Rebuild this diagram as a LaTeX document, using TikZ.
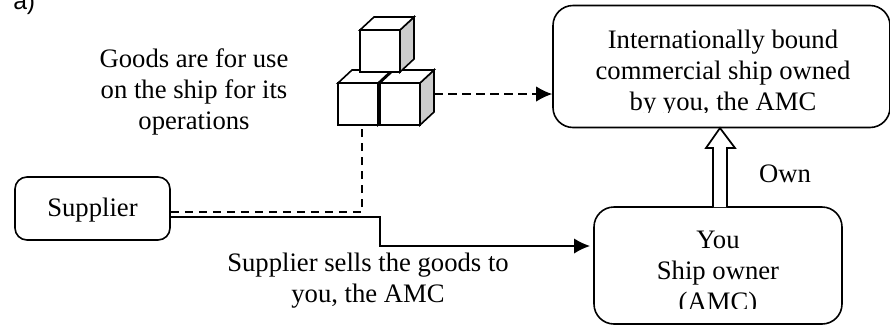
\documentclass[tikz,border=0pt]{standalone}
\usepackage{fontspec}
\setmainfont{Liberation Serif}
\newfontfamily\labelfont{Liberation Sans}
\usetikzlibrary{arrows.meta,positioning}
\tikzset{
    roundbox/.style={draw, line width=1.2pt, rounded corners=15pt, inner sep=0pt},
    caption/.style={align=center, font=\fontsize{20}{23.2}\selectfont, inner sep=0pt},
    crate/.style={draw, line width=1.2pt, fill=white, line join=miter},
    crateside/.style={crate, fill=black!20},
    wire/.style={line width=1.1pt},
    dashwire/.style={wire, dash pattern=on 6.5pt off 4pt},
    tip/.style={-{Latex[length=12pt,width=11.5pt]}},
}
\begin{document}
\begin{tikzpicture}[x=0.75pt,y=-0.75pt]
    \useasboundingbox (0,0) rectangle (890,326);

    \node[font=\labelfont\fontsize{18.5}{22}\selectfont, inner sep=0pt, anchor=base west] (mark) at (13,9) {a)};

    % boxes
    \node[roundbox, minimum width=252.75pt, minimum height=91.5pt] (ship) at (721.5,66.5) {};
    \node[roundbox, minimum width=186pt, minimum height=87.75pt] (owner) at (718,265.5) {};
    \node[roundbox, rounded corners=9pt, minimum width=116.25pt, minimum height=47.25pt] (supplier) at (92.5,208.5) {};

    % texts
    \node[caption] at (92.5,210.5) {Supplier};
    \begin{scope}
        \clip (560,10) rectangle (885,112);
        \node[caption] (shiptext) at (723,73.5) {Internationally bound\\commercial ship owned\\by you, the AMC};
    \end{scope}
    \begin{scope}
        \clip (600,215) rectangle (835,308);
        \node[caption, anchor=north] (ownertext) at (718,231) {You\\Ship owner\\(AMC)};
    \end{scope}
    \node[caption] (goodstext) at (194,92) {Goods are for use\\on the ship for its\\operations};
    \node[caption] (saletext) at (368,280.5) {Supplier sells the goods to\\you, the AMC};
    \node[caption] (owntext) at (785,174) {Own};

    % goods
    \foreach \cx/\cy in {338/83, 380/83, 360/30} {
        \draw[crateside] (\cx+40,\cy) -- (\cx+54,\cy-13) -- (\cx+54,\cy+29) -- (\cx+40,\cy+42) -- cycle;
        \draw[crate] (\cx,\cy) -- (\cx+14,\cy-13) -- (\cx+54,\cy-13) -- (\cx+40,\cy) -- cycle;
        \draw[crate] (\cx,\cy) rectangle (\cx+40,\cy+42);
    }
    \coordinate (goodsright) at (434,94);
    \coordinate (goodsdown) at (362,126);
    \coordinate (ownerin) at (590,246);

    % connectors
    \draw[dashwire, tip] (goodsright) -- (ship.west |- goodsright);
    \draw[dashwire] (supplier.east |- 0,212) -| (goodsdown);
    \draw[wire, tip] (supplier.east |- 0,217) -| (380,246) -- (ownerin);

    % ownership arrow
    \draw[line width=1.3pt, fill=white] (713,207) -- (713,148) -- (706,148) -- (720,128) -- (735,148) -- (727,148) -- (727,207);
\end{tikzpicture}
\end{document}
